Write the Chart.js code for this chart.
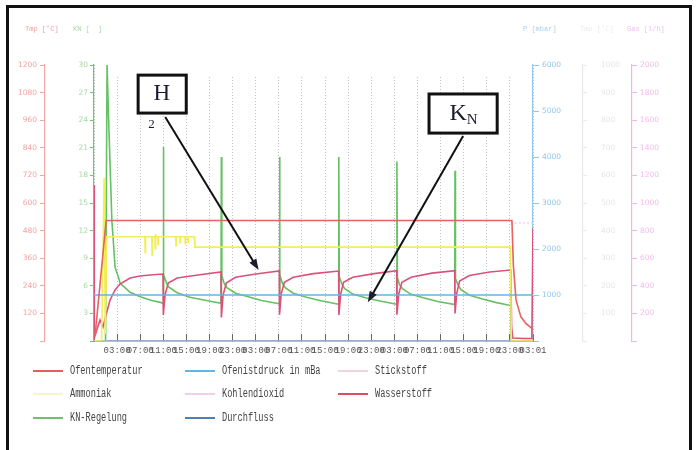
<!DOCTYPE html>
<html>
<head>
<meta charset="utf-8">
<script src="https://cdn.jsdelivr.net/npm/chart.js@4.4.1/dist/chart.umd.min.js"></script>
<style>
  html, body { margin: 0; padding: 0; background: #fff; }
  #wrap { position: relative; width: 696px; height: 450px; overflow: hidden; background: #fff; }
  #chart { position: absolute; left: 0; top: 0; }
  .hdr { position: absolute; top: 25px; font: 7px 'Liberation Mono', monospace; white-space: pre; }
  .frame { position: absolute; left: 6px; top: 5px; width: 680px; height: 470px; border: 3px solid #111; }
  .leg-line { position: absolute; width: 30px; height: 2px; }
  .leg-text { position: absolute; font: 12px 'Liberation Mono', monospace; color: #444;
              transform: scaleX(0.72); transform-origin: 0 50%; white-space: pre; line-height: 14px; }
</style>
</head>
<body>
<div id="wrap">
  <canvas id="chart" width="696" height="450"></canvas>
  <span class="hdr" style="left:25px;color:#f0a0a0">Tmp [°C]</span>
  <span class="hdr" style="left:73px;color:#a8d8a8">KN [  ]</span>
  <span class="hdr" style="left:523px;color:#a8d0f0">P [mbar]</span>
  <span class="hdr" style="left:580px;color:#ececec">Tmp [°C]</span>
  <span class="hdr" style="left:627px;color:#f4c0ec">Gas [l/h]</span>
  <div id="legend"></div>
  <div class="frame"></div>
</div>
<script>
// time axis: hours since start, one tick every 4 h
const timeLabels = ['', '03:00', '07:00', '11:00', '15:00', '19:00', '23:00',
  '03:00', '07:00', '11:00', '15:00', '19:00', '23:00',
  '03:00', '07:00', '11:00', '15:00', '19:00', '23:00', '03:01'];

// Ofentemperatur [°C]
const tempHours  = [0, 0.2, 2.1, 72.35, 72.6, 73.05, 73.9, 74.8, 75.7, 76];
const tempValues = [22, 26, 524, 524, 330, 180, 105, 75, 57, 50];

// Ofenistdruck [mbar]
const pressHours  = [0, 76];
const pressValues = [1000, 1000];

// Stickstoff [l/h]
const n2Hours  = [72.2, 76];
const n2Values = [855, 855];

// Ammoniak [l/h]
const nh3Hours  = [0, 1.3, 1.55, 1.75, 1.95, 2.2, 8.8, 8.86, 8.92, 10.0, 10.07, 10.13, 10.55, 10.6, 10.65, 10.7,
  11.05, 11.1, 11.15, 14.15, 14.2, 14.25, 14.85, 14.9, 14.95, 15.75, 15.8, 15.85, 16.25, 16.3, 16.35,
  17.4, 17.45, 72.1, 72.25, 76];
const nh3Values = [0, 0, 600, 1181, 50, 755, 755, 640, 755, 755, 620, 755, 755, 670, 775, 755,
  755, 700, 755, 755, 690, 755, 755, 710, 755, 755, 705, 755, 755, 715, 755,
  755, 680, 680, 0, 0];

// Kohlendioxid [l/h]
const co2Hours  = [0, 76];
const co2Values = [0, 0];

// Wasserstoff [l/h]
const h2Hours  = [0, 0.05, 1.04, 1.56, 2.08, 2.78, 3.65, 4.5, 6.25, 8.0, 9.7, 11.95,
  12.0, 12.3, 12.85, 14.4, 18.0, 22.0,
  22.05, 22.35, 22.9, 24.5, 28.0, 32.08,
  32.12, 32.4, 32.95, 34.5, 38.0, 42.35,
  42.4, 42.7, 43.2, 44.8, 48.5, 52.4,
  52.44, 52.75, 53.3, 54.9, 58.5, 62.45,
  62.5, 62.8, 63.3, 65.0, 68.5, 72.15,
  72.3, 72.5, 74.5, 75.8, 76];
const h2Values = [1130, 22, 152, 101, 188, 297, 370, 413, 456, 471, 478, 485,
  188, 333, 420, 456, 478, 500,
  170, 333, 420, 462, 485, 507,
  190, 340, 425, 462, 488, 507,
  188, 340, 425, 462, 488, 510,
  190, 340, 425, 462, 492, 510,
  200, 345, 435, 475, 500, 514,
  100, 22, 18, 18, 819];

// KN-Regelung [-]
const knHours = [0, 2.0, 2.26, 2.6, 3.1, 3.3, 3.65, 4.2, 4.5, 6.25, 8.0, 10.0, 11.5, 11.95,
  12.0, 12.08, 12.5, 12.85, 14.4, 16.6, 19.0, 21.98,
  22.05, 22.13, 22.5, 23.0, 24.5, 26.7, 29.0, 32.05,
  32.12, 32.2, 32.6, 33.1, 34.5, 36.8, 39.1, 42.32,
  42.38, 42.46, 42.9, 43.4, 44.8, 47.0, 49.5, 52.38,
  52.44, 52.52, 52.9, 53.4, 54.8, 57.0, 59.5, 62.45,
  62.5, 62.58, 63.0, 63.5, 64.9, 67.1, 69.5, 72.15,
  72.25, 76];
const knValues = [0, 0, 30, 22.7, 13.0, 11.3, 8.0, 7.0, 6.3, 5.3, 4.8, 4.4, 4.2, 4.05,
  21.1, 7.2, 6.4, 5.9, 5.25, 4.75, 4.45, 4.1,
  20.0, 7.1, 6.3, 5.8, 5.2, 4.8, 4.4, 4.05,
  20.0, 7.2, 6.3, 5.8, 5.2, 4.75, 4.4, 4.0,
  20.0, 7.0, 6.2, 5.7, 5.1, 4.7, 4.35, 4.0,
  19.5, 6.9, 6.1, 5.7, 5.1, 4.7, 4.3, 3.95,
  18.5, 6.8, 6.1, 5.6, 5.0, 4.6, 4.2, 3.85,
  0, 0];

// Durchfluss
const flowHours  = [0, 76];
const flowValues = [0, 0];

function pts(hours, values) {
  return hours.map((h, i) => ({ x: h, y: values[i] }));
}

const series = [
  { label: 'Ofentemperatur',      data: pts(tempHours, tempValues),   axis: 'yT', color: '#e8625f', legend: '#e06060', width: 1.6 },
  { label: 'Ofenistdruck in mBa', data: pts(pressHours, pressValues), axis: 'yP', color: '#64b4e6', legend: '#64b4e0', width: 1.5 },
  { label: 'Stickstoff',          data: pts(n2Hours, n2Values),       axis: 'yS', color: '#f2c4d2', legend: '#f0d4dc', width: 1.2, dash: [2, 2] },
  { label: 'Ammoniak',            data: pts(nh3Hours, nh3Values),     axis: 'yS', color: '#f2ee58', legend: '#f8f6c8', width: 1.6 },
  { label: 'Kohlendioxid',        data: pts(co2Hours, co2Values),     axis: 'yS', color: '#eccaec', legend: '#f0d0e8', width: 1.2 },
  { label: 'Wasserstoff',         data: pts(h2Hours, h2Values),       axis: 'yS', color: '#da527a', legend: '#d85060', width: 1.6 },
  { label: 'KN-Regelung',         data: pts(knHours, knValues),       axis: 'yK', color: '#66c064', legend: '#70c070', width: 1.6 },
  { label: 'Durchfluss',          data: pts(flowHours, flowValues),   axis: 'yG', color: '#5a86b8', legend: '#5080b0', width: 1.6 }
];

// legend grid, three columns
const legendCols = [33, 185, 338];
const legendRows = [371, 394, 418];
const legendEl = document.getElementById('legend');
series.forEach((s, i) => {
  const cx = legendCols[i % 3], cy = legendRows[Math.floor(i / 3)];
  const line = document.createElement('div');
  line.className = 'leg-line';
  line.style.left = cx + 'px';
  line.style.top = (cy - 1) + 'px';
  line.style.background = s.legend;
  legendEl.appendChild(line);
  const txt = document.createElement('span');
  txt.className = 'leg-text';
  txt.style.left = (cx + 37) + 'px';
  txt.style.top = (cy - 7) + 'px';
  txt.textContent = s.label;
  legendEl.appendChild(txt);
});

const tickFont = { family: "'DejaVu Sans', sans-serif", size: 7.5 };
const hideZero = v => (v === 0 ? '' : v);

function yAxis(pos, weight, min, max, step, color, lineColor, tl, pad, w) {
  return {
    type: 'linear', position: pos, weight, min, max,
    ticks: { stepSize: step, color, font: tickFont, padding: pad, callback: hideZero },
    grid: { drawOnChartArea: false, tickLength: tl, tickColor: lineColor, lineWidth: 1 },
    border: { color: lineColor, width: 1.2 },
    afterFit: s => { s.width = w; }
  };
}

// the dotted time grid starts a little below the top of the plot
const gridTop = {
  id: 'gridTop',
  beforeDatasetsDraw(chart) {
    const { ctx, chartArea: a } = chart;
    ctx.save();
    ctx.fillStyle = '#fff';
    ctx.fillRect(a.left + 1.5, a.top - 1, a.right - a.left - 3, 11);
    ctx.restore();
  }
};

// H2 and KN call-outs, positioned on the chart's scales
const callouts = {
  id: 'callouts',
  afterDraw(chart) {
    const { ctx, scales: { x, yT, yS, yK } } = chart;
    ctx.save();
    ctx.strokeStyle = '#111';
    ctx.fillStyle = '#111';

    function box(h0, h1, t0, t1) {
      const x0 = x.getPixelForValue(h0), x1 = x.getPixelForValue(h1);
      const y0 = yT.getPixelForValue(t0), y1 = yT.getPixelForValue(t1);
      ctx.fillStyle = '#fff';
      ctx.fillRect(x0, y0, x1 - x0, y1 - y0);
      ctx.lineWidth = 3;
      ctx.strokeRect(x0, y0, x1 - x0, y1 - y0);
      ctx.fillStyle = '#111';
      return { cx: (x0 + x1) / 2, cy: (y0 + y1) / 2 };
    }
    function arrow(x1, y1, x2, y2) {
      const a = Math.atan2(y2 - y1, x2 - x1);
      ctx.lineWidth = 2;
      ctx.beginPath();
      ctx.moveTo(x1, y1);
      ctx.lineTo(x2 - 8 * Math.cos(a), y2 - 8 * Math.sin(a));
      ctx.stroke();
      ctx.beginPath();
      ctx.moveTo(x2, y2);
      ctx.lineTo(x2 - 11 * Math.cos(a) + 4 * Math.sin(a), y2 - 11 * Math.sin(a) - 4 * Math.cos(a));
      ctx.lineTo(x2 - 11 * Math.cos(a) - 4 * Math.sin(a), y2 - 11 * Math.sin(a) + 4 * Math.cos(a));
      ctx.closePath();
      ctx.fill();
    }

    ctx.textAlign = 'center';
    ctx.textBaseline = 'middle';

    // H2
    const b1 = box(7.64, 15.97, 1156, 991);
    ctx.font = "23px 'Liberation Serif', serif";
    ctx.fillStyle = '#1c1c2c';
    ctx.fillText('H', b1.cx - 0.5, b1.cy - 0.5);
    ctx.font = "13px 'Liberation Serif', serif";
    ctx.fillText('2', x.getPixelForValue(9.95), yT.getPixelForValue(940));
    arrow(x.getPixelForValue(12.33), yT.getPixelForValue(974), x.getPixelForValue(28.5), yS.getPixelForValue(514));

    // KN
    const b2 = box(58.0, 69.8, 1074, 904);
    ctx.fillStyle = '#1c1c2c';
    ctx.font = "24px 'Liberation Serif', serif";
    ctx.fillText('K', b2.cx - 5, b2.cy);
    ctx.font = "15px 'Liberation Serif', serif";
    ctx.fillText('N', b2.cx + 9, b2.cy + 7);
    arrow(x.getPixelForValue(63.9), yT.getPixelForValue(891), x.getPixelForValue(47.4), yK.getPixelForValue(4.2));
    ctx.restore();
  }
};

new Chart(document.getElementById('chart'), {
  type: 'line',
  data: {
    datasets: series.map(s => ({
      label: s.label,
      data: s.data,
      yAxisID: s.axis,
      borderColor: s.color,
      backgroundColor: s.color,
      borderWidth: s.width,
      borderDash: s.dash || [],
      pointRadius: 0,
      tension: 0,
      fill: false
    }))
  },
  options: {
    responsive: false,
    devicePixelRatio: 1,
    animation: false,
    layout: { padding: { left: 0, right: 10, top: 65, bottom: 89 } },
    plugins: { legend: { display: false }, tooltip: { enabled: false } },
    scales: {
      x: {
        type: 'linear', min: 0, max: 76,
        ticks: {
          stepSize: 4, autoSkip: false, maxRotation: 0, minRotation: 0,
          color: '#555', padding: 11,
          font: { family: "'Liberation Mono', monospace", size: 9 },
          callback: (v, i) => timeLabels[i]
        },
        grid: { color: '#c0c0cc', lineWidth: 1, tickLength: -7, tickColor: '#666', tickWidth: 1 },
        border: { color: '#5a86b8', width: 1.5, dash: [1, 2] },
        afterFit: s => { s.height = 20; }
      },
      yT: yAxis('left', 1, 0, 1200, 120, '#f2a4a4', '#f0a8a8', 5, 3, 45),
      yK: yAxis('left', 0, 0, 30, 3, '#a8d8a8', '#72c472', 4, 2, 49),
      yP: yAxis('right', 0, 0, 6000, 1000, '#92c8ea', '#92c8ea', 6, 3, 50),
      yG: yAxis('right', 1, 0, 1000, 100, '#e6e6e6', '#eaeaea', 4, 14, 49),
      yS: yAxis('right', 2, 0, 2000, 200, '#f2bcea', '#f0b4ec', 5, 3, 54)
    }
  },
  plugins: [gridTop, callouts]
});
</script>
</body>
</html>
